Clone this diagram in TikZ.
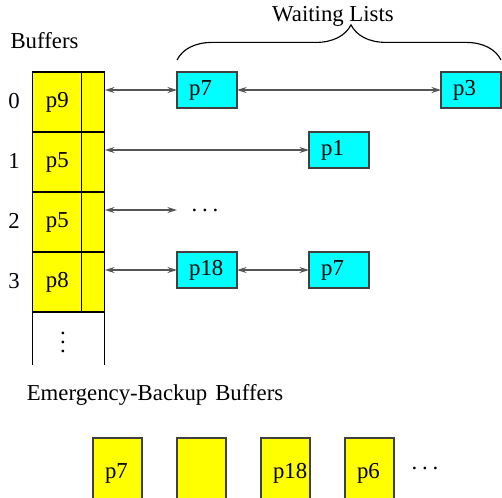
\documentclass[tikz,border=0pt]{standalone}
\usepackage{fontspec}
\setmainfont{Liberation Serif}
\usepackage{xcolor}
\usetikzlibrary{arrows.meta, positioning, decorations.pathreplacing}
\definecolor{bufYellow}{RGB}{255, 255, 0}
\definecolor{listCyan}{RGB}{0, 255, 255}
\definecolor{linkGray}{RGB}{85, 85, 85}
\newcommand{\spdots}{.\kern2.1pt.\kern2.1pt.}

\begin{document}
\begin{tikzpicture}[x=0.439pt, y=-0.439pt, font=\fontsize{10}{12}\selectfont,
    cellpage/.style={draw=black, fill=bufYellow, line width=0.5pt, inner sep=0pt, outer sep=0pt,
      minimum width=21.4pt, minimum height=26.34pt},
    cellptr/.style={cellpage, minimum width=10.2pt},
    waitbox/.style={draw=black!75, fill=listCyan, line width=0.5pt, outer sep=0pt,
      inner xsep=5.3pt, inner ysep=0pt, text width=15.7pt, align=left, minimum height=15.8pt},
    backupbox/.style={draw=black!75, fill=bufYellow, line width=0.5pt, outer sep=0pt,
      inner xsep=5.3pt, inner ysep=0pt, text width=10.9pt, align=left, minimum height=30.7pt},
    link/.style={draw=linkGray, line width=0.6pt,
      {Stealth[length=4.2pt, width=2.6pt, inset=1.4pt]}-{Stealth[length=4.2pt, width=2.6pt, inset=1.4pt]}},
    wavebrace/.style={decorate, line width=0.5pt,
      decoration={brace, amplitude=15.4pt, aspect=0.537}}]
    \clip (0,0) rectangle (502,497);

    % Buffer table
    \node (bufTitle) at (44.5,41) {Buffers};
    \node[cellpage] (c0) at (57.3,102) {p9};
    \node[cellptr, right=0pt of c0] (n0) {};
    \node[cellpage, below=0pt of c0] (c1) {p5};
    \node[cellptr, right=0pt of c1] (n1) {};
    \node[cellpage, below=0pt of c1] (c2) {p5};
    \node[cellptr, right=0pt of c2] (n2) {};
    \node[cellpage, below=0pt of c2] (c3) {p8};
    \node[cellptr, right=0pt of c3] (n3) {};
    \draw[line width=0.5pt] (c3.south west) -- ++(0,53);
    \draw[line width=0.5pt] (n3.south east) -- ++(0,53);
    \node (vd) at (63,336) {$\vdots$};

    % Row numbers
    \node (r0) at (14,101) {0};
    \node (r1) at (14,161) {1};
    \node (r2) at (14,221) {2};
    \node (r3) at (14,281) {3};

    % Waiting lists
    \node[waitbox] (w7) at (207,90) {p7};
    \node[waitbox] (w3) at (471,90) {p3};
    \node[waitbox] (w1) at (339,150) {p1};
    \node[anchor=west, inner xsep=6.2pt] (wd) at (177,210) {\spdots};
    \node[waitbox] (w18) at (207,270) {p18};
    \node[waitbox] (w7b) at (339,270) {p7};

    \draw[link] (w7.west -| n0.east) -- (w7.west);
    \draw[link] (w7.east) -- (w3.west);
    \draw[link] (w1.west -| n1.east) -- (w1.west);
    \draw[link] (wd.west -| n2.east) -- (wd.west);
    \draw[link] (w18.west -| n3.east) -- (w18.west);
    \draw[link] (w18.east) -- (w7b.west);

    \draw[wavebrace] ([yshift=5.3pt]w7.north west) -- ([yshift=5.3pt]w3.north east);
    \node (waitTitle) at (333,16) {Waiting Lists};

    % Emergency-backup buffers
    \node (backTitle) at (155,395) {Emergency-Backup\hspace{1pt} Buffers};
    \node[backupbox] (e0) at (117.5,473) {p7};
    \node[backupbox] (e1) at (201.5,473) {};
    \node[backupbox] (e2) at (285.5,473) {p18};
    \node[backupbox] (e3) at (369.5,473) {p6};
    \node (ed) at (425,468) {\spdots};
\end{tikzpicture}
\end{document}
